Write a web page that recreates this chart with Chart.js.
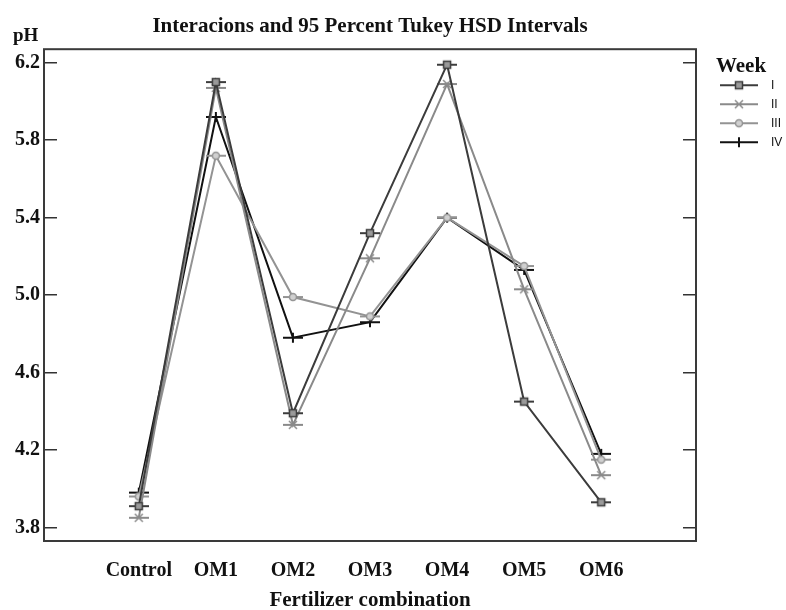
<!DOCTYPE html>
<html>
<head>
<meta charset="utf-8">
<title>Interacions and 95 Percent Tukey HSD Intervals</title>
<script src="https://cdn.jsdelivr.net/npm/chart.js@4.4.1/dist/chart.umd.min.js"></script>
<style>
html, body { margin:0; padding:0; background:#fff; }
#wrap { width:786px; height:610px; }
</style>
</head>
<body>
<div id="wrap"><canvas id="phChart" width="786" height="610"></canvas></div>
<script>
//Data (pH per fertilizer combination, one list per week)
var categories = ["Control", "OM1", "OM2", "OM3", "OM4", "OM5", "OM6"];
var weekNames = ["I", "II", "III", "IV"];
var weekI   = [3.91, 6.10, 4.39, 5.32, 6.19, 4.45, 3.93];
var weekII  = [3.85, 6.07, 4.33, 5.19, 6.09, 5.03, 4.07];
var weekIII = [3.96, 5.72, 4.99, 4.89, 5.40, 5.15, 4.15];
var weekIV  = [3.98, 5.92, 4.78, 4.86, 5.40, 5.13, 4.18];
var yTicks = [3.8, 4.2, 4.6, 5.0, 5.4, 5.8, 6.2];

var serif = '"Liberation Serif", "Times New Roman", serif';
var sans = '"Liberation Sans", Arial, sans-serif';

var weekColors = ['#3c3c3c', '#8a8a8a', '#939393', '#111111'];
var weekShapes = ['square', 'cross', 'circle', 'plus'];

//Draw a marker: horizontal bar with the week symbol on it
function makeMarker(kind, color, w, lineFrom, lineTo, cx){
  var c = document.createElement('canvas');
  c.width = w;
  c.height = 14;
  var g = c.getContext('2d');
  g.strokeStyle = color;
  g.lineWidth = 2;
  g.beginPath();
  g.moveTo(lineFrom, 7);
  g.lineTo(lineTo, 7);
  g.stroke();
  g.lineWidth = 1.5;
  if(kind == 'square'){
    g.fillStyle = '#9a9a9a';
    g.fillRect(cx-3.5, 3.5, 7, 7);
    g.strokeRect(cx-3.5, 3.5, 7, 7);
  } else if(kind == 'cross'){
    g.beginPath();
    g.moveTo(cx-4, 3); g.lineTo(cx+4, 11);
    g.moveTo(cx+4, 3); g.lineTo(cx-4, 11);
    g.stroke();
  } else if(kind == 'circle'){
    g.fillStyle = '#d0d0d0';
    g.beginPath();
    g.arc(cx, 7, 3.5, 0, Math.PI*2);
    g.fill();
    g.stroke();
  } else {
    g.lineWidth = 2;
    g.beginPath();
    g.moveTo(cx, 2); g.lineTo(cx, 12);
    g.stroke();
  }
  return c;
}

function toPoints(vals){
  var pts = [];
  for(var i = 0; i < vals.length; i++){
    pts.push({x: i, y: vals[i]});
  }
  return pts;
}

var allWeeks = [weekI, weekII, weekIII, weekIV];
var datasets = [];
var legendMarks = [];
for(var k = 0; k < allWeeks.length; k++){
  datasets.push({
    label: weekNames[k],
    data: toPoints(allWeeks[k]),
    borderColor: weekColors[k],
    backgroundColor: weekColors[k],
    borderWidth: 2,
    fill: false,
    tension: 0,
    pointStyle: makeMarker(weekShapes[k], weekColors[k], 20, 0, 20, 10),
    pointRadius: 5,
    pointHoverRadius: 5
  });
  legendMarks.push(makeMarker(weekShapes[k], weekColors[k], 62, 17, 55, 36));
}

//Box around the plot area
var frame = {
  id: 'frame',
  beforeDatasetsDraw: function(chart){
    var a = chart.chartArea;
    var ctx = chart.ctx;
    ctx.save();
    ctx.strokeStyle = '#3a3a3a';
    ctx.lineWidth = 2;
    ctx.strokeRect(a.left, a.top, a.right - a.left, a.bottom - a.top);
    ctx.restore();
  }
};

//"pH" unit label above the y axis
var phLabel = {
  id: 'phLabel',
  afterDraw: function(chart){
    var a = chart.chartArea;
    var ctx = chart.ctx;
    ctx.save();
    ctx.font = 'bold 19px ' + serif;
    ctx.fillStyle = '#111';
    ctx.textAlign = 'left';
    ctx.textBaseline = 'alphabetic';
    ctx.fillText('pH', a.left - 31, a.top - 8);
    ctx.restore();
  }
};

var tickFont = {family: serif, size: 20, weight: 'bold'};

var myChart = new Chart(document.getElementById('phChart').getContext('2d'), {
  type: 'line',
  data: { datasets: datasets },
  options: {
    responsive: false,
    animation: false,
    layout: { padding: 0 },
    scales: {
      x: {
        type: 'linear',
        min: -1.23,
        max: 7.23,
        afterBuildTicks: function(s){
          s.ticks = categories.map(function(c, i){ return {value: i}; });
        },
        afterFit: function(s){ s.height = 69; },
        ticks: {
          callback: function(v){ return categories[v]; },
          font: tickFont,
          color: '#111',
          padding: 10,
          maxRotation: 0,
          autoSkip: false
        },
        grid: { display: false },
        border: { display: false },
        title: {
          display: true,
          text: 'Fertilizer combination',
          font: {family: serif, size: 21, weight: 'bold'},
          color: '#111',
          padding: {top: 8, bottom: -3}
        }
      },
      y: {
        type: 'linear',
        position: 'left',
        min: 3.73,
        max: 6.27,
        afterBuildTicks: function(s){
          s.ticks = yTicks.map(function(v){ return {value: v}; });
        },
        afterFit: function(s){ s.width = 44; },
        ticks: {
          callback: function(v){ return v.toFixed(1); },
          font: tickFont,
          color: '#111',
          padding: 17
        },
        grid: { drawOnChartArea: false, drawTicks: true, tickLength: -13, color: '#333', lineWidth: 1.5 },
        border: { display: false }
      },
      y2: {
        type: 'linear',
        position: 'right',
        min: 3.73,
        max: 6.27,
        afterBuildTicks: function(s){
          s.ticks = yTicks.map(function(v){ return {value: v}; });
        },
        afterFit: function(s){ s.width = 0; },
        ticks: { display: false },
        grid: { drawOnChartArea: false, drawTicks: true, tickLength: -13, color: '#333', lineWidth: 1.5 },
        border: { display: false }
      }
    },
    plugins: {
      title: {
        display: true,
        text: 'Interacions and 95 Percent Tukey HSD Intervals',
        fullSize: false,
        font: {family: serif, size: 21, weight: 'bold'},
        color: '#111',
        padding: {top: 14, bottom: 10}
      },
      legend: {
        position: 'right',
        align: 'start',
        fullSize: false,
        maxWidth: 90,
        title: {
          display: true,
          text: 'Week',
          position: 'center',
          font: {family: serif, size: 21, weight: 'bold', lineHeight: 1},
          color: '#111',
          padding: {top: 7, bottom: -5}
        },
        labels: {
          usePointStyle: true,
          pointStyleWidth: 62,
          boxHeight: 12,
          padding: 7,
          font: {family: sans, size: 12},
          color: '#111',
          generateLabels: function(chart){
            return weekNames.map(function(n, i){
              return {text: n, pointStyle: legendMarks[i], datasetIndex: i, hidden: false,
                      fillStyle: weekColors[i], strokeStyle: weekColors[i], lineWidth: 0, fontColor: '#111'};
            });
          }
        }
      },
      tooltip: { enabled: false }
    }
  },
  plugins: [frame, phLabel]
});
</script>
</body>
</html>
